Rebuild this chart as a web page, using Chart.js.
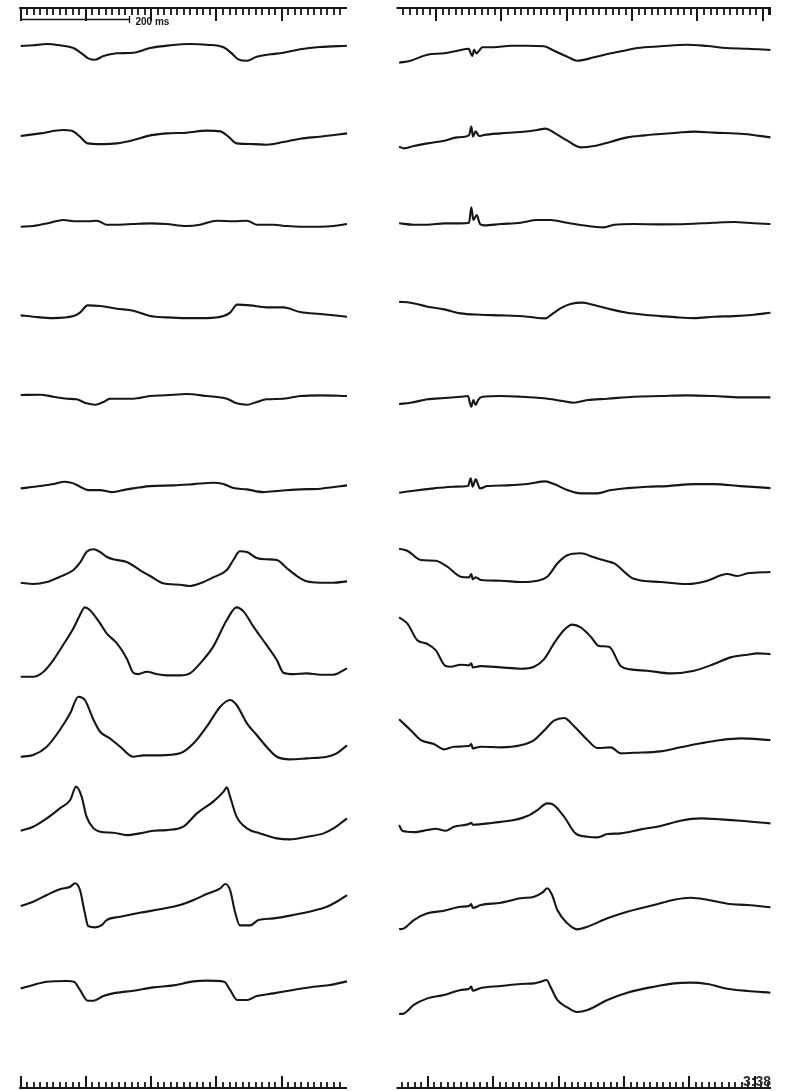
<!DOCTYPE html>
<html>
<head>
<meta charset="utf-8">
<script src="https://cdn.jsdelivr.net/npm/chart.js@4.4.1/dist/chart.umd.min.js"></script>
<style>
  html, body { margin: 0; padding: 0; background: #fff; }
  #wrap { position: relative; width: 788px; height: 1091px; overflow: hidden; }
  .col { position: absolute; top: 0; width: 394px; height: 1091px; }
  #leftCol { left: 0; }
  #rightCol { left: 394px; }
</style>
</head>
<body>
<div id="wrap">
  <div class="col" id="leftCol"><canvas id="leftChart"></canvas></div>
  <div class="col" id="rightCol"><canvas id="rightChart"></canvas></div>
</div>
<script>
// Time in ms, amplitude in display units. Each trace is a list of [time, amplitude] samples.

// ---- left column: 12 leads, 0–600 ms ----
const L1  = [[0,5],[23,5.7],[48,7],[72,5.7],[97,3],[112,-2.3],[124,-7.3],[137,-8.7],[152,-5],[177,-2.3],[207,-1.7],[238,3],[275,5.7],[311,7],[342,6.3],[373,3.7],[388,-2.3],[400,-8.3],[416,-9.7],[434,-5.7],[459,-3.3],[483,-1.7],[514,1.7],[550,4],[600,5.3]];
const L2  = [[0,0.5],[36,3.1],[78,6.5],[94,5.8],[109,-0.2],[123,-6.9],[146,-7.6],[177,-6.9],[207,-3.6],[238,1.1],[268,3.1],[305,3.8],[342,5.8],[367,5.1],[382,-0.2],[397,-6.9],[428,-7.6],[452,-8.2],[483,-5.6],[514,-2.2],[550,-0.2],[600,3.1]];
const L3  = [[0,-4.8],[23,-4.1],[54,-0.8],[78,1.9],[103,0.6],[124,0.6],[140,1.2],[158,-2.8],[177,-2.8],[207,-2.1],[238,-1.4],[268,-2.1],[305,-4.1],[330,-2.8],[360,1.2],[391,0.6],[416,1.2],[434,-2.8],[465,-2.8],[489,-4.1],[514,-4.8],[551,-4.8],[575,-4.1],[600,-2.1]];
const L4  = [[0,-8],[23,-9.3],[60,-10.7],[97,-8.7],[109,-5.3],[123,2],[146,1.4],[177,-1.3],[207,-3.3],[238,-8.7],[268,-10],[305,-10.7],[342,-10.7],[373,-8.7],[385,-5.3],[398,2.7],[422,2],[452,0],[483,0],[514,-4.7],[551,-6.7],[600,-9.3]];
const L5  = [[0,-2.2],[36,-1.9],[60,-3.9],[85,-5.9],[103,-6.5],[121,-10.5],[137,-11.9],[152,-9.2],[164,-5.9],[207,-5.9],[238,-3.2],[268,-2.5],[305,-1.2],[342,-3.2],[379,-5.9],[397,-10.5],[416,-11.9],[434,-9.2],[452,-6.5],[483,-5.9],[514,-3.2],[551,-2.5],[600,-3.2]];
const L6  = [[0,-10.1],[36,-7.8],[60,-5.8],[81,-3.4],[97,-5.1],[109,-8.4],[124,-11.8],[146,-11.8],[167,-13.8],[195,-11.1],[238,-7.8],[281,-7.1],[318,-5.8],[354,-4.4],[373,-5.8],[391,-9.8],[416,-11.1],[446,-13.8],[477,-12.4],[514,-11.1],[551,-10.4],[600,-7.1]];
const L7  = [[0,-19],[23,-20.3],[48,-18.3],[72,-13],[97,-6.3],[109,1],[121,11.7],[134,14.4],[146,11.7],[158,7],[170,4.4],[195,1.7],[219,-6.3],[238,-12.3],[262,-19.6],[293,-21],[311,-22.3],[330,-19.6],[354,-13.6],[379,-6.3],[391,3.7],[403,12.4],[416,11.7],[434,5.7],[452,4.4],[471,3.7],[489,-4.3],[508,-12.3],[526,-17.6],[551,-19],[575,-19],[600,-17.6]];
const L8  = [[0,-27.5],[23,-27.5],[42,-22.5],[60,-10.9],[78,4.2],[97,20.8],[109,34.2],[118,41.8],[127,39.2],[146,25.8],[158,15.8],[177,5.8],[195,-9.2],[207,-23.5],[216,-24.9],[232,-22.5],[250,-24.9],[268,-26.2],[293,-26.2],[311,-24.2],[330,-14.2],[354,2.5],[379,29.2],[397,41.8],[410,37.5],[428,22.5],[452,4.2],[471,-10.9],[483,-23.5],[501,-24.9],[526,-24.2],[551,-25.5],[575,-25.5],[600,-19.2]];
const L9  = [[0,-22.1],[23,-20.4],[48,-12.1],[72,4.6],[91,21.3],[106,37.9],[118,34.6],[134,14.6],[146,2.9],[164,-3.7],[183,-12.1],[207,-22.1],[226,-20.7],[256,-20.7],[293,-18.7],[318,-8.7],[342,7.9],[367,27.9],[385,34.6],[397,29.6],[416,11.3],[434,-0.4],[452,-12.1],[471,-22.1],[495,-24.7],[526,-23.7],[563,-22.1],[581,-18.7],[600,-10.7]];
const L10 = [[0,-10.6],[23,-6.6],[48,1.7],[72,11.7],[91,20.1],[102,33.4],[112,23.4],[121,3.4],[134,-8.3],[146,-11.6],[170,-12.6],[195,-15],[219,-13.3],[244,-10.6],[268,-10],[299,-6.6],[324,6.7],[354,18.4],[373,28.4],[379,32.7],[385,23.4],[397,3.4],[416,-8.3],[440,-13.3],[471,-18.3],[495,-19.3],[526,-16.6],[557,-13.3],[575,-8.3],[600,1.7]];
const L11 = [[0,-0.5],[23,3.8],[48,10.5],[72,16.2],[91,18.8],[100,22.2],[109,15.5],[118,-7.8],[124,-20.5],[137,-21.8],[149,-19.5],[158,-14.5],[183,-11.2],[219,-7.2],[256,-3.8],[293,0.5],[318,5.5],[342,11.5],[367,17.2],[376,21.5],[385,15.5],[394,-6.2],[403,-19.8],[422,-19.8],[437,-14.5],[465,-12.8],[501,-9.5],[538,-5.2],[563,-1.2],[581,3.8],[600,10.5]];
const L12 = [[0,2.6],[23,6],[48,9.3],[85,10],[98,9.3],[109,1],[123,-9.7],[134,-9.7],[152,-5.1],[170,-2.4],[207,0.3],[244,3.6],[281,5.6],[318,9.6],[342,10.3],[374,9.3],[385,1],[398,-9],[416,-9],[434,-5.1],[465,-2.4],[501,1],[538,4.3],[569,6],[600,9.6]];

// ---- right column: 12 leads, -70–615 ms ----
const R1  = [[-68,-11.7],[-47,-9.7],[-16,-3.7],[15,-2.3],[39,0.3],[60,2.3],[63.5,-2.3],[66.5,-5],[69.6,1.3],[73.9,-2.3],[78.8,0.3],[85,3.7],[106,3.7],[137,5.3],[167.5,5.3],[198,4.7],[216.5,0.3],[241,-5.7],[259,-9.7],[290,-6.3],[321,-2.3],[351,1],[369.5,3],[412,4.7],[461,6.3],[498,5],[535,3],[572,2.3],[614,1]];
const R2  = [[-68,-10.2],[-59,-11.9],[-41,-9.6],[-16,-6.9],[15,-4.2],[39,-0.9],[60.4,1.1],[64.7,9.8],[67.7,-0.2],[72.6,5.1],[78.8,0.5],[88,1.5],[118.6,3.1],[155,4.5],[186,6.5],[201,7.8],[216.5,3.8],[241,-4.2],[265.5,-10.9],[290,-9.6],[321,-5.2],[351,-0.9],[382,1.1],[412,2.5],[443,3.8],[474,4.8],[510,3.8],[565.5,2.5],[614,-0.9]];
const R3  = [[-68,-1.4],[-41,-2.8],[-16,-2.8],[15,-1.4],[45,-1.4],[60.4,-0.8],[64.7,14.6],[68.4,1.9],[74.5,6.9],[80.6,-2.1],[88,-3.4],[118.6,-2.1],[155,-0.8],[186,1.9],[210,1.9],[241,-0.8],[265.5,-3.1],[290,-4.8],[308,-5.4],[327,-2.8],[363,-2.1],[412,-2.4],[461,-2.1],[510,-0.8],[547,-0.1],[584,-1.4],[614,-2.1]];
const R4  = [[-68,5.7],[-47,4.7],[-16,0.7],[15,-2],[45,-6],[82,-7.3],[119,-8],[167.5,-9.3],[201,-11],[213,-6.7],[229,-0.7],[247,3.4],[268.5,4.7],[290,2.4],[321,-2],[351,-5.3],[382,-7.3],[412,-8.7],[443,-10],[474,-10.7],[510,-9.3],[547,-8.7],[584,-7.3],[614,-5.3]];
const R5  = [[-68,-11.2],[-47,-9.9],[-16,-6.5],[15,-5.2],[45,-3.9],[58.6,-3.2],[62.2,-10.5],[64.7,-13.9],[68.4,-7.2],[72.6,-12.2],[77,-7.2],[85,-3.9],[119,-3.2],[155,-3.9],[198,-5.5],[229,-7.9],[253,-9.9],[278,-7.2],[314.5,-5.9],[363,-3.9],[412,-3.2],[461,-2.5],[510,-3.2],[559,-4.5],[614,-4.5]];
const R6  = [[-68,-14.4],[-41,-12.4],[-4,-10.1],[33,-8.4],[58.6,-7.8],[63.5,-0.1],[67.1,-8.4],[72.6,-1.1],[80.6,-10.1],[94,-7.8],[131,-7.1],[167.5,-5.8],[201,-3.1],[216.5,-5.8],[241,-11.8],[265.5,-15.1],[296,-15.1],[321,-11.8],[351,-9.8],[388,-8.4],[425,-7.8],[474,-5.8],[510,-5.8],[559,-7.8],[614,-9.8]];
const R7  = [[-68,15],[-53,13],[-28,3.7],[-0.8,3],[20.6,-3],[45,-13],[60.4,-13.6],[64.7,-10.3],[67.1,-15.6],[72.6,-13.6],[82,-16.3],[119,-17],[155,-18.3],[186,-17],[204,-13],[223,0.4],[241,8.4],[265.5,10.4],[290,6.4],[314.5,2.4],[327,0.4],[363,-15],[412,-18.3],[461,-20.3],[498,-17],[523,-11.6],[535,-10.3],[553,-12.3],[572,-9.6],[614,-8.3]];
const R8  = [[-68,31.8],[-53,25.8],[-35,9.2],[-16,5.2],[-0.8,-0.9],[17.5,-16.9],[26.7,-17.5],[45,-15.5],[60.4,-16.2],[64.7,-14.2],[67.1,-18.2],[82,-16.9],[119,-18.2],[155,-19.5],[180,-17.5],[198,-10.2],[216.5,5.8],[235,19.2],[250,24.5],[265.5,21.8],[284,12.5],[299,3.2],[317.5,2.5],[339,-16.9],[357,-20.2],[388,-21.5],[431,-24.2],[474,-21.5],[510,-14.9],[541,-8.2],[572,-5.5],[590,-4.2],[614,-4.9]];
const R9  = [[-68,15.3],[-47,4.6],[-28,-5.4],[-4,-9.4],[14.5,-14.7],[33,-12.1],[60.4,-11.4],[64.7,-9.4],[67.1,-13.7],[82,-12.1],[119,-12.7],[155,-10.7],[180,-5.4],[198,3.9],[216.5,13.9],[235,16.6],[253,8.6],[278,-5.4],[296,-13.4],[320.6,-12.7],[339,-18.7],[363,-18.1],[412,-16.7],[449,-12.7],[486,-8.7],[523,-5.4],[559,-3.7],[614,-5.4]];
const R10 = [[-68,-5],[-62,-10.6],[-41,-12],[-16,-10],[-0.8,-8.6],[17.5,-10.6],[33,-6.6],[60.4,-4],[64.7,-2.6],[67.1,-4.6],[106,-2.6],[143,0],[167.5,4],[186,10],[204,16.7],[213,16],[235,3.4],[256,-13.3],[278,-16.6],[296,-17.3],[314.5,-14],[339,-13.3],[376,-9.3],[412,-6],[449,-0.6],[486,1.7],[523,0.7],[559,-0.6],[614,-3.3]];
const R11 = [[-68,-23.8],[-59,-22.8],[-41,-14.5],[-16,-7.8],[14.5,-5.2],[45,-1.2],[60.4,-0.5],[64.7,1.5],[67.1,-2.5],[82,0.5],[119,2.8],[155,7.2],[180,8.8],[195,12.8],[204,17.2],[213,10.5],[222.6,-4.5],[241,-17.8],[259,-23.8],[278,-21.2],[314.5,-12.8],[351,-6.2],[400,0.5],[437,5.8],[467.5,7.8],[498,5.8],[535,1.8],[572,0.5],[614,-1.8]];
const R12 = [[-68,-23],[-59,-22.4],[-41,-14],[-16,-7.4],[14.5,-4],[45,1],[60.4,2.3],[64.7,4.3],[67.1,0.3],[82,3],[119,5],[155,7],[180,7.6],[192,9.3],[203,11],[210,4.3],[222.6,-9],[241,-16.4],[259,-21],[278,-19],[314.5,-9],[351,-1.7],[400,4.3],[437,7.6],[467.5,8.3],[498,7],[535,2.3],[572,0],[614,-1.7]];

const LEFT_LEADS  = [L1, L2, L3, L4, L5, L6, L7, L8, L9, L10, L11, L12];
const RIGHT_LEADS = [R1, R2, R3, R4, R5, R6, R7, R8, R9, R10, R11, R12];

// time windows and ruler origins (ms)
const LEFT_WINDOW  = [0, 600];
const RIGHT_WINDOW = [-70, 615];
const MINOR_MS = 12;          // small ruler division
const MINORS_PER_MAJOR = 10;  // long tick every 120 ms
const SCALE_BAR_MS = 200;
const SCALE_BAR_LABEL = '200 ms';
const TIME_STAMP = '3:38';

const AMP_HALF_RANGE = 42.7;  // each lead gets an equal band of ±42.7 units
const INK = '#161616';

function drawRuler(ctx, scale, origin, y, dir, majorLen, minorLen) {
  const lo = scale.min, hi = scale.max;
  const px = t => scale.getPixelForValue(t);
  ctx.lineWidth = 2;
  ctx.beginPath();
  ctx.moveTo(px(lo) - 1.5, y);
  ctx.lineTo(px(hi), y);
  ctx.stroke();
  const k0 = Math.ceil((lo - origin) / MINOR_MS);
  for (let k = k0; origin + k * MINOR_MS < hi - 4; k++) {
    const t = origin + k * MINOR_MS;
    const major = ((k % MINORS_PER_MAJOR) + MINORS_PER_MAJOR) % MINORS_PER_MAJOR === 0;
    const xx = Math.round(px(t));
    ctx.lineWidth = major ? 2 : 1.8;
    ctx.beginPath();
    ctx.moveTo(xx, y);
    ctx.lineTo(xx, y + dir * (major ? majorLen : minorLen));
    ctx.stroke();
  }
}

const rulerPlugin = {
  id: 'ruler',
  afterDraw(chart, args, opts) {
    const ctx = chart.ctx;
    const x = chart.scales.x;
    const H = chart.height;
    ctx.save();
    ctx.strokeStyle = INK;
    ctx.fillStyle = INK;
    // top ruler, ticks hanging down
    drawRuler(ctx, x, opts.topOrigin, 8, 1, 13, 7);
    // bottom ruler, ticks standing up
    drawRuler(ctx, x, opts.bottomOrigin, H - 3, -1, 12, 6);

    if (opts.endBlock) {
      const xr = x.getPixelForValue(x.max);
      ctx.fillRect(xr - 3, 7, 3, 8);
    }
    if (opts.scaleBar) {
      const x0 = x.getPixelForValue(opts.topOrigin);
      const x1 = x.getPixelForValue(opts.topOrigin + SCALE_BAR_MS);
      ctx.lineWidth = 1.5;
      ctx.beginPath();
      ctx.moveTo(x0, 19.5);
      ctx.lineTo(x1, 19.5);
      ctx.stroke();
      ctx.lineWidth = 1.3;
      ctx.beginPath();
      ctx.moveTo(Math.round(x1) + 0.5, 16);
      ctx.lineTo(Math.round(x1) + 0.5, 23);
      ctx.stroke();
      ctx.font = 'bold 10px "Liberation Sans", Arial, sans-serif';
      ctx.textBaseline = 'alphabetic';
      ctx.textAlign = 'left';
      ctx.fillText(SCALE_BAR_LABEL, x1 + 6, 25);
    }
    if (opts.stamp) {
      ctx.font = 'bold 14px "Liberation Sans", Arial, sans-serif';
      ctx.textAlign = 'right';
      ctx.textBaseline = 'alphabetic';
      ctx.fillStyle = '#2a2a2a';
      ctx.fillText(opts.stamp, chart.chartArea.right, H - 5);
    }
    ctx.restore();
  }
};

function buildChart(canvasId, leads, win, padding, rulerOpts) {
  const scales = {
    x: { type: 'linear', min: win[0], max: win[1], display: false }
  };
  const datasets = leads.map((lead, i) => {
    const id = 'lead' + i;
    scales[id] = {
      type: 'linear', position: 'right', stack: 'leads', stackWeight: 1,
      min: -AMP_HALF_RANGE, max: AMP_HALF_RANGE, display: false
    };
    return {
      data: lead.map(([t, v]) => ({ x: t, y: v })),
      yAxisID: id,
      borderColor: INK,
      borderWidth: 2.1,
      pointRadius: 0,
      fill: false,
      cubicInterpolationMode: 'monotone',
      clip: false
    };
  });
  return new Chart(document.getElementById(canvasId), {
    type: 'line',
    data: { datasets },
    options: {
      responsive: true,
      maintainAspectRatio: false,
      animation: false,
      events: [],
      layout: { padding },
      scales,
      plugins: { legend: { display: false }, tooltip: { enabled: false }, ruler: rulerOpts }
    },
    plugins: [rulerPlugin]
  });
}

buildChart('leftChart', LEFT_LEADS, LEFT_WINDOW,
  { left: 20.7, right: 47, top: 8.3, bottom: 57.3 },
  { topOrigin: 0, bottomOrigin: 0, scaleBar: true });

buildChart('rightChart', RIGHT_LEADS, RIGHT_WINDOW,
  { left: 4, right: 17, top: 8.3, bottom: 57.3 },
  { topOrigin: 0, bottomOrigin: -15, endBlock: true, stamp: TIME_STAMP });
</script>
</body>
</html>
